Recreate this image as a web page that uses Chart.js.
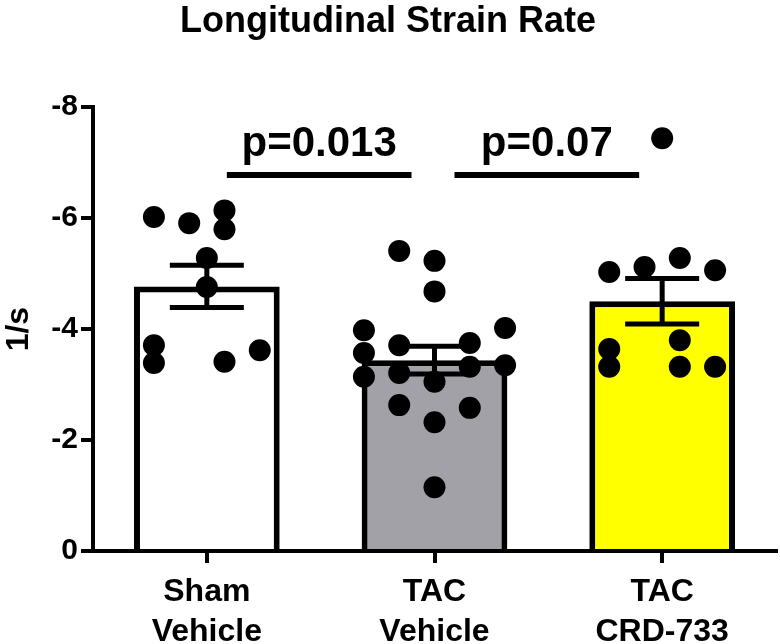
<!DOCTYPE html>
<html>
<head>
<meta charset="utf-8">
<script src="https://cdn.jsdelivr.net/npm/chart.js@4.4.0/dist/chart.umd.min.js"></script>
<style>
  body { margin: 0; background: #fff; }
</style>
</head>
<body>
<canvas id="myChart" width="780" height="644"></canvas>
<script>
// group labels (two lines each)
const groups = [["Sham", "Vehicle"], ["TAC", "Vehicle"], ["TAC", "CRD-733"]];
// bar heights (mean) and SEM, in 1/s
const means = [-4.77, -3.44, -4.5];
const sems = [0.38, 0.25, 0.41];
// individual animals
const shamVals = [-6.02, -5.91, -6.14, -5.8, -5.28, -4.76, -3.71, -3.39, -3.41, -3.62];
const tacVals = [-5.41, -5.23, -4.68, -3.98, -4.02, -3.71, -3.75, -3.57, -3.14, -3.21, -3.05, -3.32, -3.35, -2.63, -2.58, -2.32, -1.15];
const crdVals = [-7.44, -5.03, -5.12, -5.28, -5.06, -3.8, -3.64, -3.32, -3.32, -3.32];
// column slot of each dot inside its group (scatter spread)
const shamSlots = [-1.5, -0.5, 0.5, 0.5, 0, 0, -1.5, -1.5, 0.5, 1.5];
const tacSlots = [-1, 0, 0, -2, 2, -1, 1, -2, -2, -1, 0, 1, 2, -1, 1, 0, 0];
const crdSlots = [0, -1.5, -0.5, 0.5, 1.5, 0.5, -1.5, -1.5, 0.5, 1.5];
// y axis ticks
const yTicks = [0, -2, -4, -6, -8];
// significance comparisons
const sigPairs = [[0, 1], [1, 2]];
const sigLabels = ["p=0.013", "p=0.07"];
const sigLevel = -6.78;

const FONT = "'Liberation Sans', Arial, sans-serif";
Chart.defaults.font.family = FONT;
Chart.defaults.color = "#000";

const slotWidth = 0.155;
function dots(vals, slots, g) {
  return vals.map((v, i) => ({ x: g + slots[i] * slotWidth, y: v }));
}
const allDots = [].concat(
  dots(shamVals, shamSlots, 0),
  dots(tacVals, tacSlots, 1),
  dots(crdVals, crdSlots, 2)
);

// error bars + significance bars
const extras = {
  id: "extras",
  afterDatasetsDraw(chart) {
    const ctx = chart.ctx;
    const x = chart.scales.x;
    const y = chart.scales.y;
    ctx.save();
    ctx.strokeStyle = "#000";
    ctx.lineWidth = 5;
    ctx.lineCap = "butt";
    means.forEach((m, i) => {
      const cx = x.getPixelForValue(i);
      const top = y.getPixelForValue(m - sems[i]);
      const bot = y.getPixelForValue(m + sems[i]);
      ctx.beginPath();
      ctx.moveTo(cx, top);
      ctx.lineTo(cx, bot);
      ctx.moveTo(cx - 37, top);
      ctx.lineTo(cx + 37, top);
      ctx.moveTo(cx - 37, bot);
      ctx.lineTo(cx + 37, bot);
      ctx.stroke();
    });
    const ly = y.getPixelForValue(sigLevel);
    ctx.lineWidth = 6;
    ctx.fillStyle = "#000";
    ctx.font = "bold 42px " + FONT;
    ctx.textAlign = "center";
    ctx.textBaseline = "alphabetic";
    sigPairs.forEach((p, k) => {
      const x1 = x.getPixelForValue(p[0]) + 20;
      const x2 = x.getPixelForValue(p[1]) - 23;
      ctx.beginPath();
      ctx.moveTo(x1, ly);
      ctx.lineTo(x2, ly);
      ctx.stroke();
      ctx.fillText(sigLabels[k], (x1 + x2) / 2, ly - 19);
    });
    ctx.restore();
  },
};

const ctx = document.getElementById("myChart");
const myChart = new Chart(ctx, {
  type: "bar",
  data: {
    labels: groups,
    datasets: [
      {
        type: "scatter",
        data: allDots,
        xAxisID: "xj",
        backgroundColor: "#000",
        borderWidth: 0,
        pointRadius: 11,
        clip: false,
        order: 1,
      },
      {
        data: means,
        backgroundColor: ["#ffffff", "#a2a1a8", "#ffff00"],
        borderColor: "#000",
        borderWidth: 6,
        grouped: false,
        barPercentage: 0.64,
        categoryPercentage: 1,
        order: 2,
      },
    ],
  },
  options: {
    responsive: false,
    animation: false,
    layout: { autoPadding: false, padding: { left: 0, right: 4, top: 0, bottom: 0 } },
    plugins: {
      legend: { display: false },
      tooltip: { enabled: false },
      title: {
        display: true,
        text: "Longitudinal Strain Rate",
        font: { size: 36, weight: "bold" },
        color: "#000",
        padding: { top: 0, bottom: 64 },
      },
    },
    scales: {
      x: {
        grid: {
          offset: false,
          drawOnChartArea: false,
          color: "#000",
          lineWidth: 4,
          tickLength: 12,
        },
        border: { color: "#000", width: 4 },
        ticks: {
          font: { size: 32, weight: "bold", lineHeight: 1.25 },
          color: "#000",
          padding: 9,
          maxRotation: 0,
        },
        afterFit(scale) {
          scale.height = 93;
          scale.paddingLeft = 0;
          scale.paddingRight = 0;
        },
      },
      xj: {
        type: "linear",
        display: false,
        offset: false,
        grid: { offset: false },
        min: -0.5,
        max: 2.5,
      },
      y: {
        reverse: true,
        min: -8,
        max: 0,
        afterBuildTicks(scale) { scale.ticks = yTicks.map(v => ({ value: v })); },
        grid: {
          drawOnChartArea: false,
          color: "#000",
          lineWidth: 4,
          tickLength: 12,
        },
        border: { color: "#000", width: 4 },
        ticks: {
          font: { size: 30, weight: "bold" },
          color: "#000",
          padding: 3,
        },
        title: {
          display: true,
          text: "1/s",
          font: { size: 32, weight: "bold" },
          color: "#000",
          padding: 0,
        },
        afterFit(scale) { scale.width = 93; },
      },
    },
  },
  plugins: [extras],
});
</script>
</body>
</html>
